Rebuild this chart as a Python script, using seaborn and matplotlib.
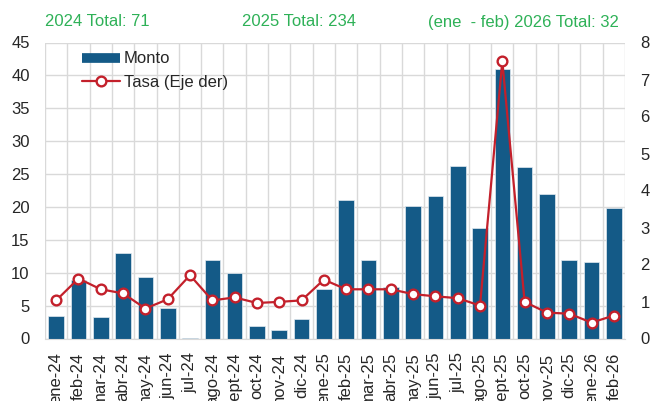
import numpy as np
import pandas as pd
import matplotlib.pyplot as plt
import seaborn as sns
from matplotlib.lines import Line2D

# --------------------------------
# Data
# --------------------------------
meses = ["ene-24", "feb-24", "mar-24", "abr-24", "may-24", "jun-24", "jul-24",
         "ago-24", "sept-24", "oct-24", "nov-24", "dic-24",
         "ene-25", "feb-25", "mar-25", "abr-25", "may-25", "jun-25", "jul-25",
         "ago-25", "sept-25", "oct-25", "nov-25", "dic-25",
         "ene-26", "feb-26"]

monto = [3.4, 8.9, 3.3, 13.0, 9.4, 4.7, 0.15, 11.9, 9.9, 1.9, 1.3, 3.0,
         7.5, 21.0, 11.9, 7.8, 20.2, 21.6, 26.2, 16.8, 40.9, 26.0, 21.9, 12.0,
         11.7, 19.9]

tasa = [1.03, 1.62, 1.33, 1.22, 0.81, 1.06, 1.71, 1.03, 1.11, 0.96, 0.99, 1.03,
        1.59, 1.33, 1.33, 1.33, 1.20, 1.14, 1.09, 0.89, 7.50, 0.99, 0.70, 0.67,
        0.43, 0.62]

totales = ["2024 Total: 71", "2025 Total: 234", "(ene  - feb) 2026 Total: 32"]

df = pd.DataFrame({"mes": meses, "monto": monto, "tasa": tasa})
n = len(meses)

azul = "#145a87"
rojo = "#c3202b"
verde = "#2eb157"
gris = "#d9d9d9"
texto = "#262626"

# --------------------------------
# Style
# --------------------------------
sns.set_style("white")
plt.rcParams["font.family"] = ["Liberation Sans", "DejaVu Sans"]

fig = plt.figure(figsize=(6.5, 4.01), dpi=100)
ax = fig.add_axes([45 / 650, (401 - 338.5) / 401, 580 / 650, (338.5 - 42.5) / 401])

# bars
sns.barplot(data=df, x="mes", y="monto", color=azul, saturation=1,
            width=0.7, edgecolor="#e3eaf0", linewidth=0.5, ax=ax)

ax.set_axisbelow(True)
ax.set_ylim(0, 45)
ax.set_yticks(np.arange(0, 46, 5))
ax.yaxis.grid(True, color=gris, linewidth=1)
ax.set_xticks(np.arange(-0.5, n, 1), minor=True)
ax.xaxis.grid(True, which="minor", color=gris, linewidth=1)
ax.xaxis.grid(False, which="major")

# line on right axis
ax2 = ax.twinx()
sns.pointplot(data=df, x="mes", y="tasa", ax=ax2, color=rojo, markers="o",
              errorbar=None, linewidth=1.6, markersize=7,
              markerfacecolor="white", markeredgewidth=1.7)
ax2.set_ylim(0, 8)
ax2.set_yticks(np.arange(0, 9, 1))
ax2.grid(False)

ax.set_xlim(-0.5, n - 0.5)
ax.set_xticks(range(n))
ax.set_xticklabels(meses, rotation=90)

for a in (ax, ax2):
    for s in a.spines.values():
        s.set_visible(False)
    a.set_xlabel("")
    a.set_ylabel("")

ax.spines["bottom"].set_visible(True)
ax.spines["bottom"].set_color(gris)

ax.tick_params(axis="x", which="major", length=0, pad=10, labelsize=12, labelcolor=texto)
ax.tick_params(axis="x", which="minor", length=4, width=1, color=gris, direction="out")
ax.tick_params(axis="y", length=0, pad=11, labelsize=12, labelcolor=texto)
ax2.tick_params(axis="y", length=0, pad=11, labelsize=12, labelcolor=texto)

# legend
handles = [
    Line2D([0], [0], color=azul, linewidth=7, solid_capstyle="butt"),
    Line2D([0], [0], color=rojo, linewidth=1.6, marker="o", markersize=7,
           markerfacecolor="white", markeredgewidth=1.7),
]
ax.legend(handles, ["Monto", "Tasa (Eje der)"], loc="upper left",
          bbox_to_anchor=(0.064, 0.97), frameon=False, fontsize=12,
          handlelength=2.3, handletextpad=0.2, labelspacing=0.5,
          borderpad=0, borderaxespad=0, labelcolor=texto)

# header totals
for xc, t in zip([97.8, 298.7, 523], totales):
    fig.text(xc / 650, 1 - 22 / 401, t, ha="center", va="center",
             fontsize=12, color=verde)

fig.savefig("out.png", dpi=100)
